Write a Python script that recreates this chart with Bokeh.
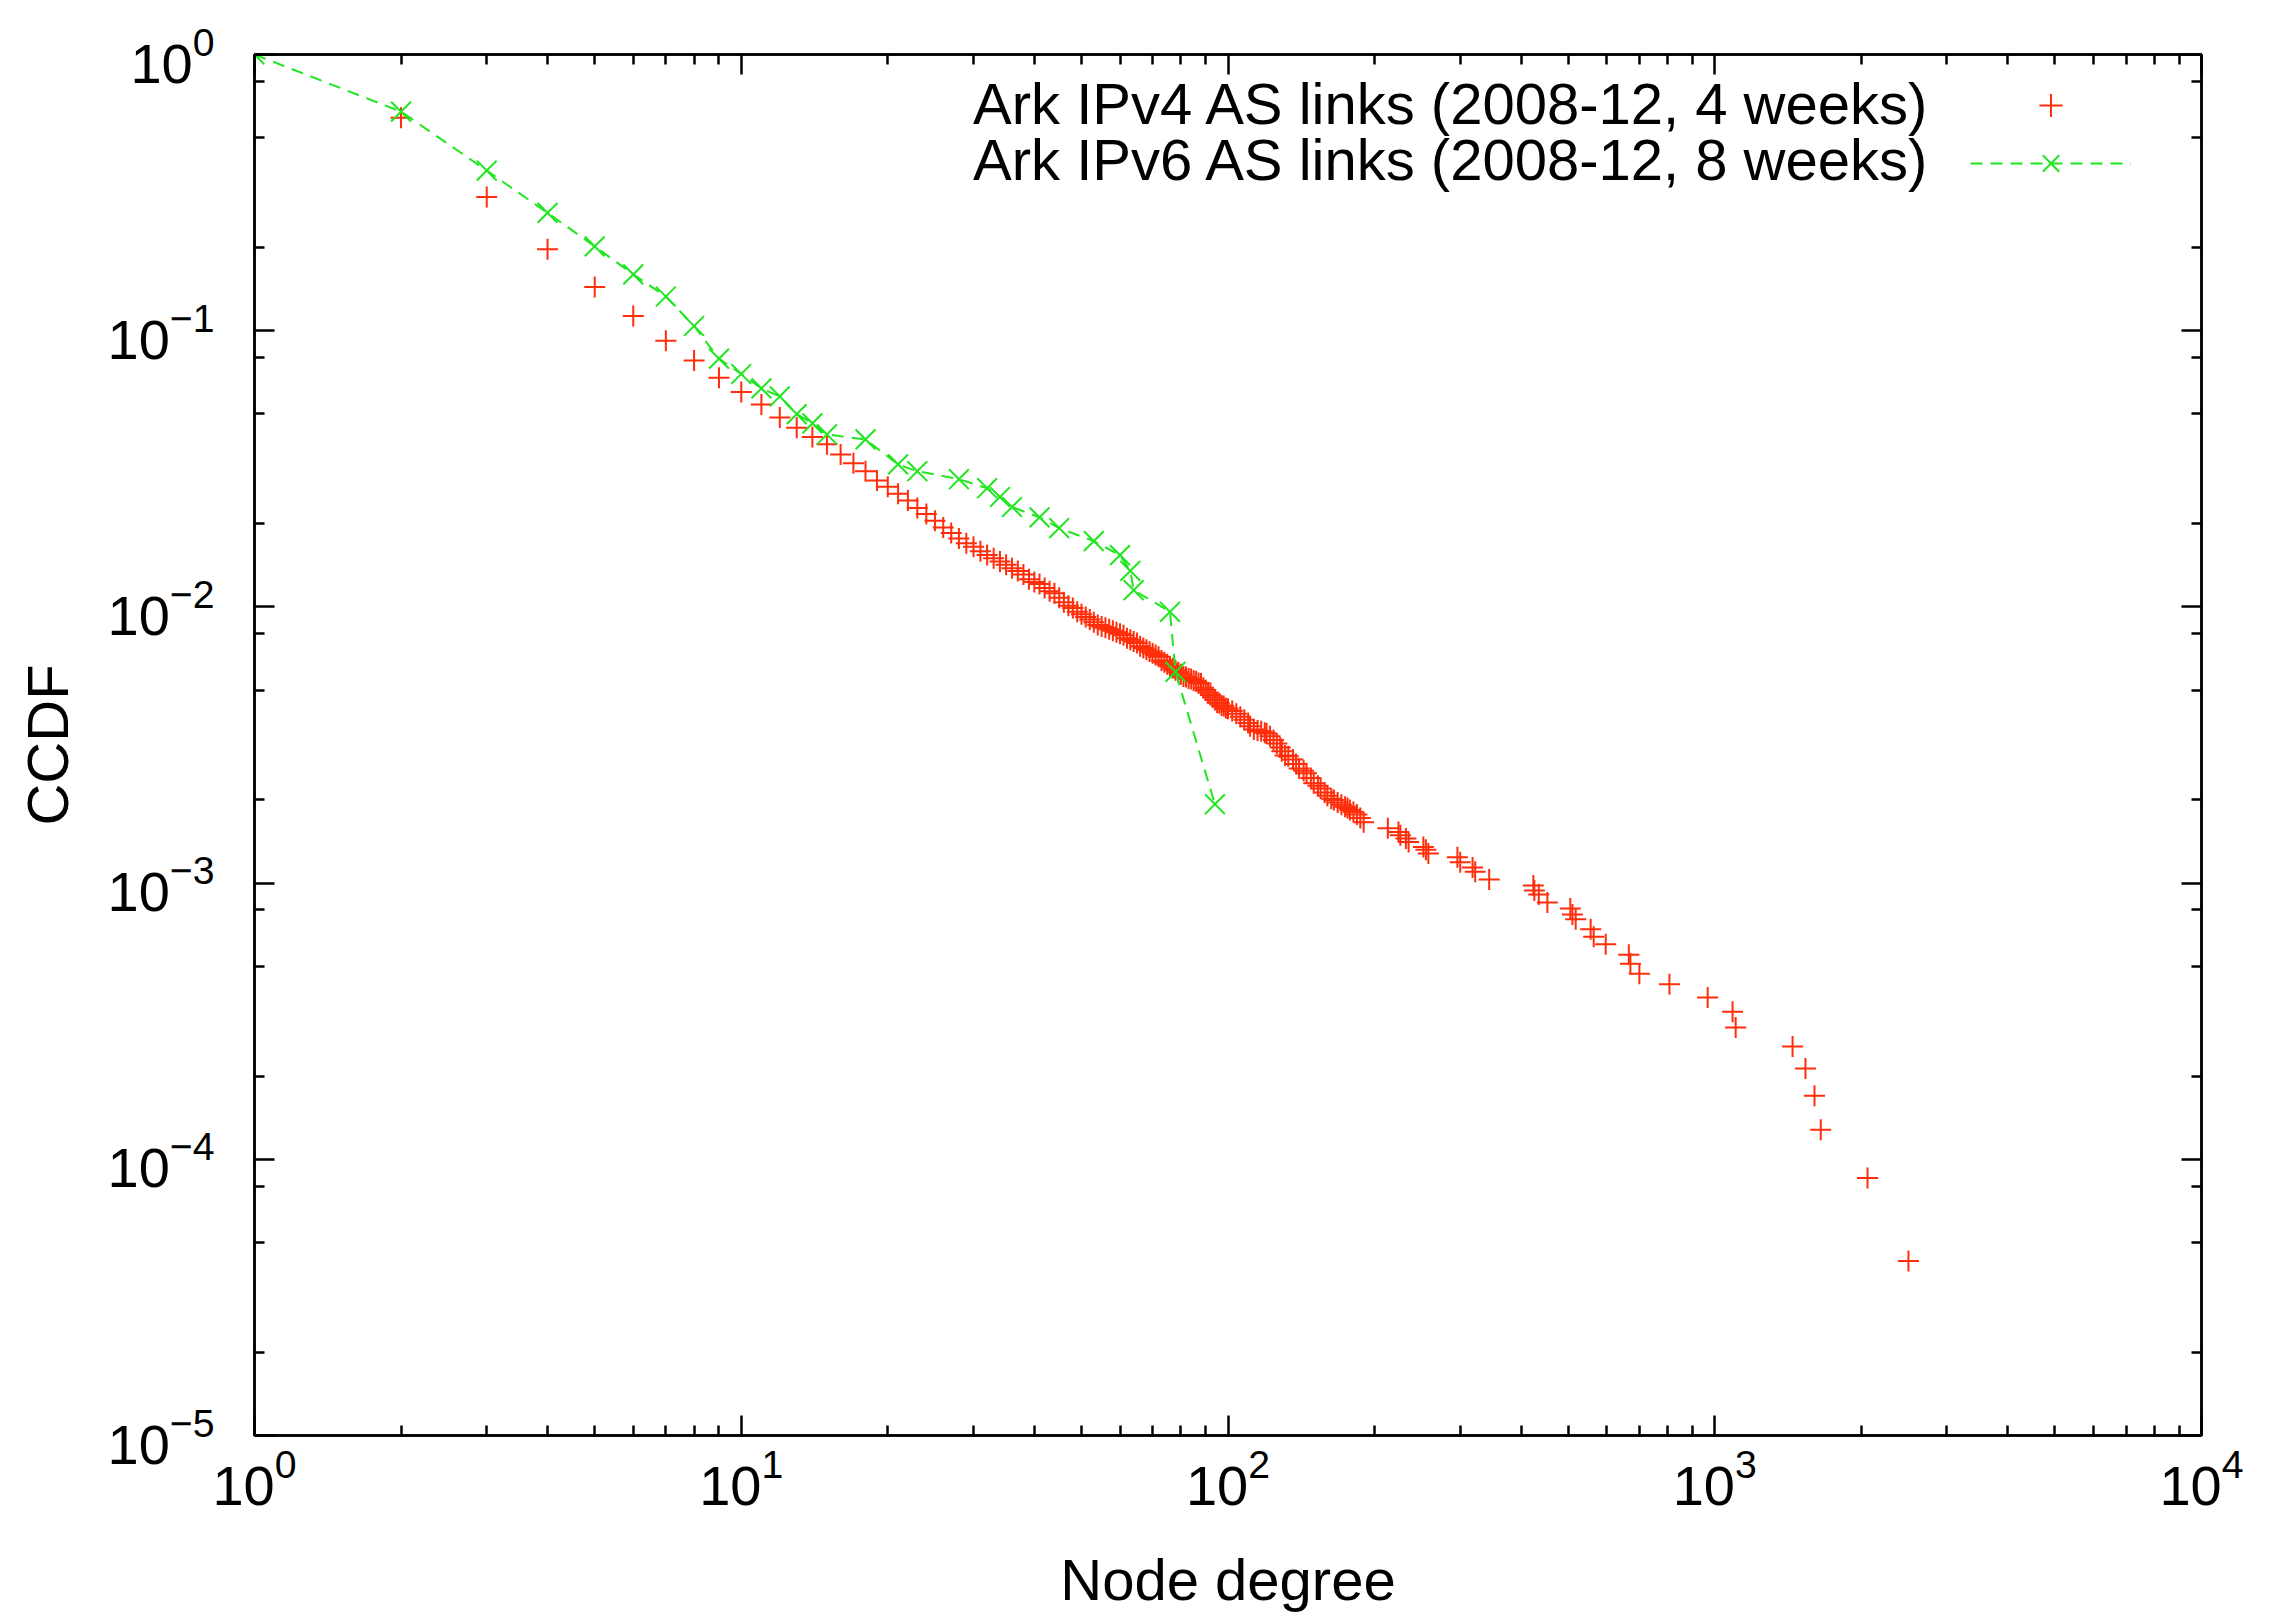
from bokeh.plotting import figure
from bokeh.models import (FixedTicker, LogAxis, Range1d, Legend, LegendItem, Label)
from bokeh.core.properties import value
from bokeh.embed import file_html
from bokeh.resources import INLINE

# ---------------- data ----------------
ipv4_degree = [
    1, 2, 3, 4, 5, 6, 7, 8, 9, 10, 11, 12, 13, 14, 15, 16, 17, 18, 19, 20,
    21, 22, 23, 24, 25, 26, 27, 28, 29, 30, 31, 32, 33, 34, 35, 36, 37, 38, 39, 40,
    41, 42, 43, 44, 45, 46, 47, 48, 49, 50, 51, 52, 53, 54, 55, 56, 57, 58, 59, 60,
    61, 62, 63, 64, 65, 66, 67, 68, 69, 70, 71, 72, 73, 74, 75, 76, 77, 78, 79, 80,
    81, 82, 83, 84, 85, 86, 87, 88, 89, 90, 91, 92, 93, 94, 95, 96, 97, 98, 99, 100,
    102, 104, 106, 108, 110, 111, 113, 115, 117, 119, 120, 122, 124, 126, 128, 129,
    131, 133, 136, 138, 140, 143, 145, 148, 150, 153, 155, 158, 160, 163, 165, 168,
    171, 174, 176, 178, 181, 184, 187, 190, 213, 224, 226, 232, 235, 252, 255, 258,
    296, 300, 318, 322, 344, 424, 426, 435, 453, 505, 510, 518, 556, 564, 597, 666,
    671, 700, 807, 967, 1088, 1104, 1445, 1536, 1603, 1651, 2060, 2500,
]
ipv4_ccdf = [
    1.0, 0.59, 0.305, 0.197, 0.144, 0.113, 0.092, 0.078, 0.0675, 0.060,
    0.054, 0.0485, 0.0445, 0.0412, 0.0388, 0.0356, 0.0331, 0.0310, 0.0287, 0.0272,
    0.0257, 0.0243, 0.0228, 0.0217, 0.0205, 0.0194, 0.0185, 0.0177, 0.0170, 0.0165,
    0.0159, 0.0154, 0.0150, 0.0146, 0.0142, 0.0138, 0.0135, 0.0131, 0.0126, 0.0123,
    0.0121, 0.0117, 0.0114, 0.0112, 0.0108, 0.0104, 0.0101, 0.0099, 0.0096, 0.0094,
    0.0092, 0.0090, 0.0088, 0.0086, 0.0085, 0.0084, 0.0083, 0.0082, 0.0081, 0.0080,
    0.0079, 0.0077, 0.0076, 0.0075, 0.0074, 0.0072, 0.0071, 0.0070, 0.0069, 0.0068,
    0.0067, 0.0066, 0.0064, 0.0063, 0.0062, 0.0061, 0.0060, 0.0059, 0.0058, 0.0057,
    0.0056, 0.00558, 0.0055, 0.00548, 0.0054, 0.00538, 0.0053, 0.00528, 0.0051, 0.0050,
    0.0049, 0.0048, 0.0047, 0.0046, 0.0045, 0.00448, 0.0044, 0.00438, 0.0043, 0.00428,
    0.0042, 0.0041, 0.0040, 0.0039, 0.0038, 0.0037, 0.0036, 0.00357, 0.00355, 0.0035,
    0.00348, 0.0034, 0.0033, 0.0032, 0.0031, 0.0030, 0.0029, 0.00288, 0.0028, 0.0027,
    0.0026, 0.00255, 0.0025, 0.0024, 0.0023, 0.00225, 0.0022, 0.00213, 0.00207, 0.00202,
    0.0020, 0.00196, 0.00192, 0.00189, 0.00187, 0.00184, 0.00181, 0.00177, 0.00172, 0.00166,
    0.00158, 0.00153, 0.00149, 0.00145, 0.00141, 0.00135, 0.00132, 0.00128, 0.00124, 0.00119,
    0.00114, 0.00110, 0.00103, 0.00098, 0.00094, 0.00091, 0.00085, 0.00081, 0.00077, 0.00074,
    0.00068, 0.00064, 0.00060, 0.00055, 0.00051, 0.00047, 0.00043, 0.000385, 0.000342, 0.000300,
    0.000256, 0.000213, 0.000170, 0.000128, 0.0000856, 0.0000428,
]

ipv6_degree = [1, 2, 3, 4, 5, 6, 7, 8, 9, 10, 11, 12, 13, 14, 15, 18, 21, 23, 28,
               32, 34, 36, 41, 45, 53, 60, 63, 64, 76, 78, 94]
ipv6_ccdf = [1.0, 0.621, 0.380, 0.267, 0.202, 0.160, 0.133, 0.104, 0.0792, 0.0697,
             0.0618, 0.0578, 0.0499, 0.0462, 0.0421, 0.0404, 0.0328, 0.0310, 0.0290,
             0.0269, 0.0250, 0.0230, 0.0211, 0.0193, 0.0173, 0.0154, 0.0135, 0.0115,
             0.0096, 0.00582, 0.00193]

series_labels = ["Ark IPv4 AS links (2008-12, 4 weeks)",
                 "Ark IPv6 AS links (2008-12, 8 weeks)"]
x_title = "Node degree"
y_title = "CCDF"

x_major = [1, 10, 100, 1000, 10000]
x_minor = [2, 3, 4, 5, 6, 7, 8, 9, 20, 30, 40, 50, 60, 70, 80, 90,
           200, 300, 400, 500, 600, 700, 800, 900,
           2000, 3000, 4000, 5000, 6000, 7000, 8000, 9000]
y_major = [1e-5, 1e-4, 1e-3, 1e-2, 1e-1, 1]
y_minor = [2e-5, 5e-5, 8e-5, 2e-4, 5e-4, 8e-4, 2e-3, 5e-3, 8e-3,
           2e-2, 5e-2, 8e-2, 2e-1, 5e-1, 8e-1]

# ---------------- styling ----------------
RED = "#ff2d0a"
GREEN = "#1fe61f"
FONT = "Liberation Sans"

W, H = 2262, 1614
FL, FT = 254, 54            # frame left / top (page has no margin)
FRAME_RIGHT, FRAME_BOTTOM = 2201, 1436
FR, FB = W - FRAME_RIGHT, H - FRAME_BOTTOM
frame_w = FRAME_RIGHT - FL
frame_h = FRAME_BOTTOM - FT

p = figure(width=W, height=H, x_axis_type="log", y_axis_type="log",
           x_range=Range1d(1, 1e4), y_range=Range1d(1e-5, 1),
           output_backend="svg", toolbar_location=None,
           min_border_left=FL, min_border_right=FR,
           min_border_top=FT, min_border_bottom=FB)
p.grid.visible = False
p.outline_line_color = "black"
p.outline_line_width = 2.5
p.background_fill_color = "white"
p.border_fill_color = "white"

xt = FixedTicker(ticks=x_major, minor_ticks=x_minor)
yt = FixedTicker(ticks=y_major, minor_ticks=y_minor)


def style_axis(ax, show_labels):
    ax.axis_line_color = "black"
    ax.axis_line_width = 2.5
    ax.major_tick_line_color = "black"
    ax.major_tick_line_width = 2.5
    ax.minor_tick_line_color = "black"
    ax.minor_tick_line_width = 2.5
    ax.major_tick_in = 20
    ax.major_tick_out = 0
    ax.minor_tick_in = 10
    ax.minor_tick_out = 0
    ax.major_label_text_font = FONT
    ax.axis_label_text_font = FONT
    ax.axis_label_text_font_style = "normal"
    ax.axis_label_text_color = "black"
    ax.major_label_text_color = "black"
    if show_labels:
        ax.major_label_text_font_size = "56px"
        ax.axis_label_text_font_size = "58px"
    else:
        ax.major_label_text_font_size = "1px"
        ax.major_label_standoff = 0
        ax.major_label_text_alpha = 0


xa = p.xaxis[0]
ya = p.yaxis[0]
xa.ticker = xt
ya.ticker = yt
style_axis(xa, True)
style_axis(ya, True)
xa.axis_label = x_title
ya.axis_label = y_title
xa.major_label_standoff = 13
ya.major_label_standoff = 40
xa.axis_label_standoff = 39
xa.axis_label_text_line_height = 1.0
ya.axis_label_standoff = 25

top = LogAxis(ticker=xt)
right = LogAxis(ticker=yt)
top.major_label_overrides = {t: "" for t in x_major}
right.major_label_overrides = {t: "" for t in y_major}
style_axis(top, False)
style_axis(right, False)
p.add_layout(top, "above")
p.add_layout(right, "right")

# ---------------- data glyphs ----------------
r4 = p.scatter(ipv4_degree, ipv4_ccdf, marker="cross", size=21,
               line_color=RED, line_width=2)
l6 = p.line(ipv6_degree, ipv6_ccdf, line_color=GREEN, line_width=2,
            line_dash="12 8")
r6 = p.scatter(ipv6_degree, ipv6_ccdf, marker="x", size=28,
               line_color=GREEN, line_width=2)

# ---------------- legend (gnuplot style: text right-aligned, sample on right) ----
glyph_h, gap = 58, 0
leg_top = 23
leg_h = 2 * glyph_h + gap
legend = Legend(items=[LegendItem(label=value(" "), renderers=[r4]),
                       LegendItem(label=value(" "), renderers=[l6, r6])],
                location=(1716, frame_h - leg_top - leg_h),
                orientation="vertical", glyph_width=161, glyph_height=glyph_h,
                spacing=gap, padding=0, margin=0, label_standoff=0,
                label_width=0, label_height=glyph_h, label_text_font_size="1px",
                border_line_alpha=0, background_fill_alpha=0)
p.add_layout(legend)

for i, txt in enumerate(series_labels):
    p.add_layout(Label(x=1676, y=frame_h - 50 - i * 56,
                       x_units="screen", y_units="screen", text=txt,
                       text_align="right", text_baseline="alphabetic",
                       text_font=FONT, text_font_size="58px", text_color="black"))

open("out.html", "w").write(file_html(p, INLINE))
